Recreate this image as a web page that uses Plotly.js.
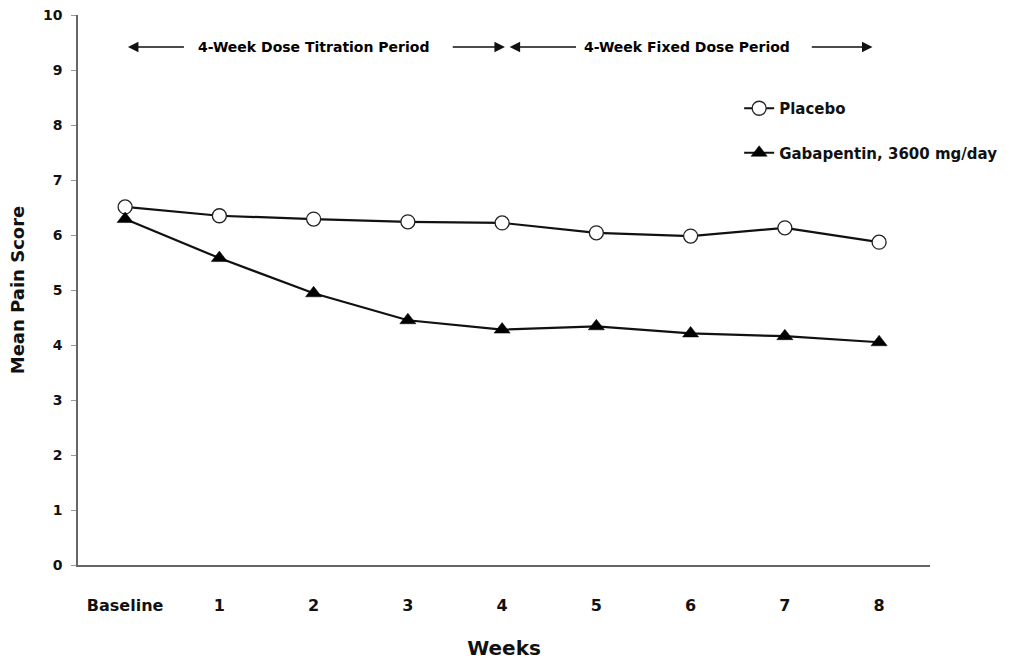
<!DOCTYPE html>
<html>
<head>
<meta charset="utf-8">
<script src="https://cdn.plot.ly/plotly-3.0.1.min.js"></script>
<style>html,body{margin:0;padding:0;background:#fff;}#chart{width:1013px;height:662px;}</style>
</head>
<body>
<div id="chart"></div>
<script>
var weeks = [0, 1, 2, 3, 4, 5, 6, 7, 8];
var tickLabels = ["Baseline", "1", "2", "3", "4", "5", "6", "7", "8"];
var placebo = [6.51, 6.35, 6.29, 6.24, 6.22, 6.04, 5.98, 6.13, 5.87];
var gabapentin = [6.29, 5.58, 4.94, 4.45, 4.28, 4.34, 4.21, 4.16, 4.05];

var F = "DejaVu Sans, Liberation Sans, Arial, sans-serif";

var traces = [
  {
    x: weeks, y: placebo, type: "scatter", mode: "lines+markers",
    name: "Placebo", legendgroup: "a",
    line: {color: "#111", width: 2.2},
    marker: {symbol: "circle", size: 14, color: "#fff", line: {color: "#222", width: 1.3}}
  },
  {
    x: weeks, y: gabapentin, type: "scatter", mode: "lines+markers",
    name: "Gabapentin, 3600 mg/day", legendgroup: "b",
    line: {color: "#111", width: 2.2},
    marker: {symbol: "triangle-up", size: 14, color: "#000", line: {color: "#000", width: 0.5}}
  }
];

var arrowY = 9.42;
function arrow(x0, x1) {
  return {x: x1, y: arrowY, xref: "x", yref: "y", ax: x0, ay: arrowY, axref: "x", ayref: "y",
    text: "", showarrow: true, arrowhead: 2, arrowsize: 1.4, arrowwidth: 1.5, arrowcolor: "#111"};
}

var layout = {
  width: 1013, height: 662,
  margin: {l: 78, r: 83, t: 15, b: 97, autoexpand: false},
  paper_bgcolor: "#fff", plot_bgcolor: "#fff",
  showlegend: true,
  legend: {x: 0.776, y: 0.860, xanchor: "left", yanchor: "top",
    traceorder: "grouped", tracegroupgap: 22,
    font: {family: F, size: 15, color: "#111", weight: "bold"}, bgcolor: "rgba(0,0,0,0)"},
  xaxis: {
    range: [-0.5, 8.54], tickmode: "array", tickvals: weeks, ticktext: tickLabels,
    showgrid: false, zeroline: false, showline: true, linecolor: "#666", linewidth: 1.6,
    ticks: "", ticklabelstandoff: 25, automargin: false,
    tickfont: {family: F, size: 16, color: "#111", weight: "bold"},
    title: {text: "Weeks", font: {family: F, size: 20, color: "#111", weight: "bold"}, standoff: 27}
  },
  yaxis: {
    range: [0, 10], tickmode: "array", tickvals: [0,1,2,3,4,5,6,7,8,9,10],
    showgrid: false, zeroline: false, showline: true, linecolor: "#666", linewidth: 1.6,
    ticks: "outside", ticklen: 5, tickcolor: "#999", tickwidth: 1, ticklabelstandoff: 6, automargin: false,
    tickfont: {family: F, size: 14, color: "#111", weight: "bold"},
    title: {text: "Mean Pain Score", font: {family: F, size: 18, color: "#111", weight: "bold"}, standoff: 14}
  },
  annotations: [
    arrow(0.64, 0.03),
    arrow(3.46, 4.03),
    arrow(4.80, 4.08),
    arrow(7.27, 7.93),
    {x: 2.0, y: arrowY, xref: "x", yref: "y", text: "4-Week Dose Titration Period", showarrow: false,
      font: {family: F, size: 14, color: "#000", weight: "bold"}},
    {x: 5.96, y: arrowY, xref: "x", yref: "y", text: "4-Week Fixed Dose Period", showarrow: false,
      font: {family: F, size: 14, color: "#000", weight: "bold"}}
  ]
};

Plotly.newPlot("chart", traces, layout, {displayModeBar: false, staticPlot: true});
</script>
</body>
</html>
